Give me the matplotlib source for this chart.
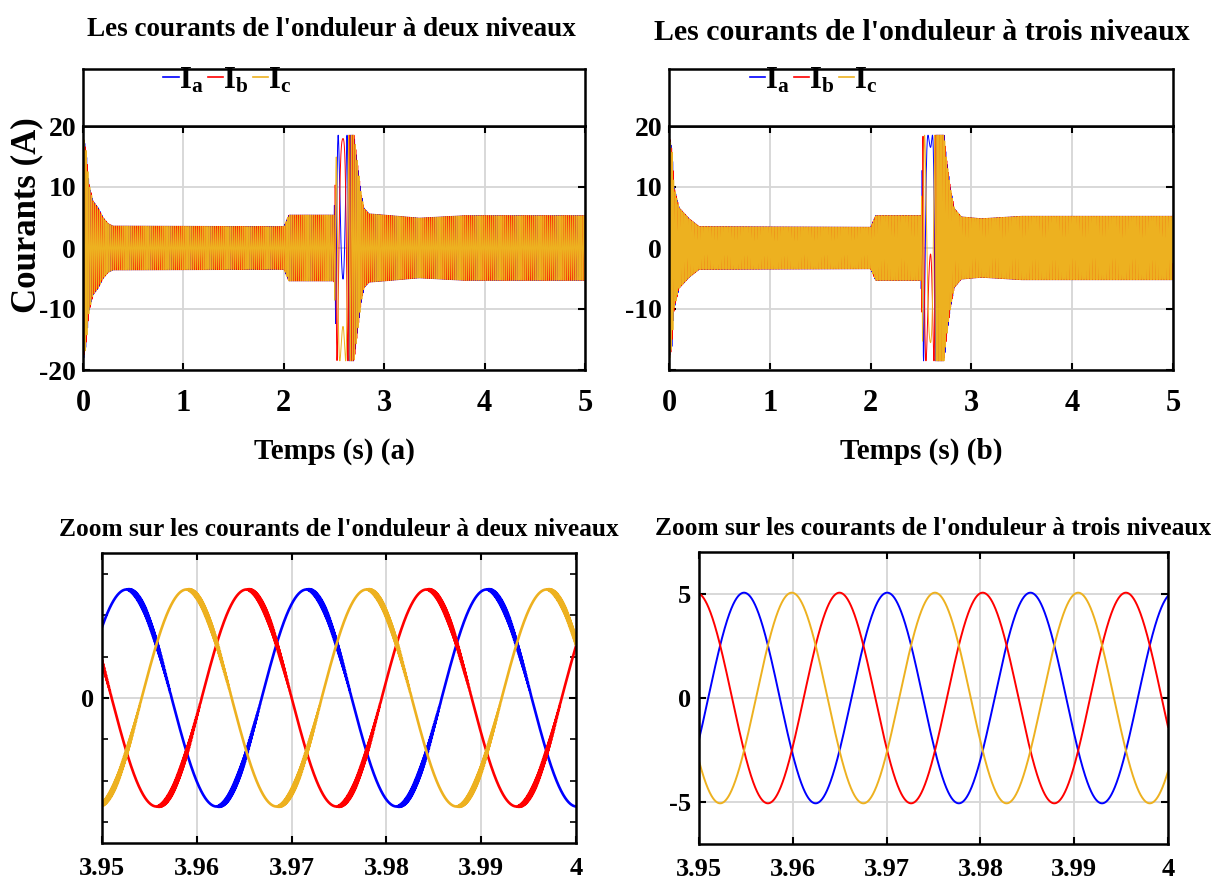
import numpy as np
import matplotlib
matplotlib.use("Agg")
import matplotlib.pyplot as plt
from matplotlib.lines import Line2D

plt.rcParams['font.family'] = 'Liberation Serif'
plt.rcParams['font.weight'] = 'bold'
plt.rcParams['axes.labelweight'] = 'bold'
plt.rcParams['axes.unicode_minus'] = False
plt.rcParams['mathtext.fontset'] = 'custom'
plt.rcParams['mathtext.rm'] = 'Liberation Serif:bold'
plt.rcParams['mathtext.it'] = 'Liberation Serif:bold'
plt.rcParams['mathtext.bf'] = 'Liberation Serif:bold'

# couleurs des phases
c_a, c_b, c_c = '#0000FF', '#FF0000', '#EDB120'
phases = ['a', 'b', 'c']

# ---- onduleur a deux niveaux : enveloppe et frequence (a)
env_t_2n = [0.0, 0.008, 0.03, 0.06, 0.10, 0.15, 0.20, 0.25, 0.30, 2.00, 2.05, 2.50,
            2.53, 2.70, 2.74, 2.77, 2.80, 2.85, 3.00, 3.35, 3.80, 5.00]
env_2n = [0.0, 18.0, 16.0, 10.5, 7.7, 6.6, 5.0, 4.0, 3.6, 3.5, 5.4, 5.4,
          18.5, 18.5, 13.0, 9.0, 6.5, 5.6, 5.4, 4.9, 5.3, 5.3]
freq_t_2n = [0.0, 2.50, 2.53, 2.59, 2.63, 2.68, 5.0]
freq_2n = [52.7, 52.7, 15.0, 0.0, -15.0, -52.7, -52.7]
t_inv_2n, th_inv_2n = 2.59, 1.85

# ---- onduleur a trois niveaux : courbe (b)
env_t_3n = [0.0, 0.008, 0.03, 0.05, 0.10, 0.20, 0.30, 2.00, 2.05, 2.50,
            2.52, 2.73, 2.75, 2.79, 2.83, 2.90, 3.10, 3.50, 5.00]
env_3n = [0.0, 18.0, 16.0, 10.0, 6.6, 4.8, 3.5, 3.4, 5.3, 5.3,
          18.5, 18.5, 15.0, 10.0, 6.5, 5.1, 4.8, 5.2, 5.2]
freq_t_3n = [0.0, 2.50, 2.53, 2.595, 2.63, 2.66, 5.0]
freq_3n = [65.5, 65.5, 15.0, 0.0, -15.0, -65.5, -65.5]
t_inv_3n, th_inv_3n = 2.595, 0.47

# ---- zooms 3.95 - 4 s
amp_z2n, freq_z2n, tpic_z2n = 5.24, 52.66, 3.9526
ond_z2n, fdec = 0.22, 10000.0
amp_z3n, freq_z3n, tpic_z3n = 5.05, 65.5, 3.9548

xt_top = [0, 1, 2, 3, 4, 5]
yt_top = [-20, -10, 0, 10, 20]
xt_zoom = [3.95, 3.96, 3.97, 3.98, 3.99, 4.0]
xl_zoom = ['3.95', '3.96', '3.97', '3.98', '3.99', '4']


def triphase(th, amp):
    return [amp * np.cos(th), amp * np.cos(th - 2 * np.pi / 3), amp * np.cos(th + 2 * np.pi / 3)]


dt = 1 / 6000
t = np.arange(0, 5, dt)


def courants(env_t, env, f_t, f, t_inv, th_inv):
    A = np.interp(t, env_t, env)
    th = 2 * np.pi * np.cumsum(np.interp(t, f_t, f)) * dt
    th += th_inv - np.interp(t_inv, t, th)
    return triphase(th, A)


W, H = 1211, 884
fig = plt.figure(figsize=(W / 100, H / 100), dpi=100)


def px(l, tp, r, b):
    return [l / W, 1 - b / H, (r - l) / W, (b - tp) / H]


def style(ax):
    for s in ax.spines.values():
        s.set_linewidth(1.8)
    ax.grid(True, color='#d6d6d6', lw=1.3)
    ax.set_axisbelow(True)
    ax.tick_params(direction='in', top=True, right=True, length=5, width=1.5)
    ax.tick_params(which='minor', direction='in', top=True, right=True, length=4, width=1.2)


cols = [c_a, c_b, c_c]

# ---------- haut
top = [
    (px(83, 126, 585, 370), px(83, 69, 585, 126), env_t_2n, env_2n, freq_t_2n, freq_2n,
     t_inv_2n, th_inv_2n, 'Temps (s) (a)', ['-20', '-10', '0', '10', '20']),
    (px(669, 126, 1173, 370), px(669, 69, 1173, 126), env_t_3n, env_3n, freq_t_3n, freq_3n,
     t_inv_3n, th_inv_3n, 'Temps (s) (b)', ['', '-10', '0', '10', '20']),
]
for rect, rleg, et, ev, ft, fv, ti, thi, xl, ylabs in top:
    ax = fig.add_axes(rect)
    style(ax)
    for y, c in zip(courants(et, ev, ft, fv, ti, thi), cols):
        ax.plot(t, y, color=c, lw=0.7)
    ax.set_xlim(0, 5)
    ax.set_ylim(-20, 20)
    ax.set_xticks(xt_top)
    ax.set_yticks(yt_top)
    ax.set_yticklabels(ylabs)
    ax.tick_params(axis='x', labelsize=22, pad=14)
    ax.tick_params(axis='y', labelsize=20, pad=5)
    ax.set_xlabel(xl, fontsize=21, labelpad=14)
    lg = fig.add_axes(rleg)
    lg.set_xticks([])
    lg.set_yticks([])
    for s in lg.spines.values():
        s.set_linewidth(1.8)
    hs = [Line2D([], [], color=c, lw=1.2) for c in cols]
    lg.legend(hs, [r'$\mathrm{I_%s}$' % p for p in phases], ncol=3, loc='upper left',
              bbox_to_anchor=(0.16, 1.06), frameon=False, fontsize=22,
              handlelength=0.5, handletextpad=0.0, columnspacing=0.15,
              borderpad=0, borderaxespad=0)

fig.text(27 / W, 1 - 215 / H, 'Courants (A)', rotation=90, fontsize=25,
         ha='center', va='center')
fig.text(331 / W, 1 - 30 / H, "Les courants de l'onduleur à deux niveaux", fontsize=19.5,
         ha='center', va='center')
fig.text(922 / W, 1 - 32 / H, "Les courants de l'onduleur à trois niveaux", fontsize=21.5,
         ha='center', va='center')

# ---------- zooms
tz = np.linspace(3.95, 4.0, 20001)
th2 = -2 * np.pi * freq_z2n * (tz - tpic_z2n)
z2 = triphase(th2, amp_z2n)
for k, d in enumerate([0, -2 * np.pi / 3, 2 * np.pi / 3]):
    z2[k] = z2[k] + ond_z2n * np.clip(-np.sin(2 * (th2 + d)), 0, None) * np.sin(2 * np.pi * fdec * tz)
th3 = -2 * np.pi * freq_z3n * (tz - tpic_z3n)
z3 = triphase(th3, amp_z3n)

ax = fig.add_axes(px(102, 553, 576, 843))
style(ax)
for y, c in zip(z2, cols):
    ax.plot(tz, y, color=c, lw=1.9)
ax.set_xlim(3.95, 4.0)
ax.set_ylim(-7, 7)
ax.set_xticks(xt_zoom)
ax.set_xticklabels(xl_zoom)
ax.set_yticks([0])
ax.set_yticks([-6, -4, -2, 2, 4, 6], minor=True)
ax.tick_params(axis='x', labelsize=19, pad=10)
ax.tick_params(axis='y', labelsize=19, pad=6)
ax.set_title("Zoom sur les courants de l'onduleur à deux niveaux", fontsize=18.3,
             fontweight='bold', pad=12)

ax = fig.add_axes(px(699, 552, 1168, 844))
style(ax)
for y, c in zip(z3, cols):
    ax.plot(tz, y, color=c, lw=1.4)
ax.set_xlim(3.95, 4.0)
ax.set_ylim(-7, 7)
ax.set_xticks(xt_zoom)
ax.set_xticklabels(xl_zoom)
ax.set_yticks([-5, 0, 5])
ax.tick_params(axis='x', labelsize=19, pad=10)
ax.tick_params(axis='y', labelsize=19, pad=6)
ax.set_title("Zoom sur les courants de l'onduleur à trois niveaux", fontsize=18.3,
             fontweight='bold', pad=12)

fig.savefig('out.png', dpi=100)
